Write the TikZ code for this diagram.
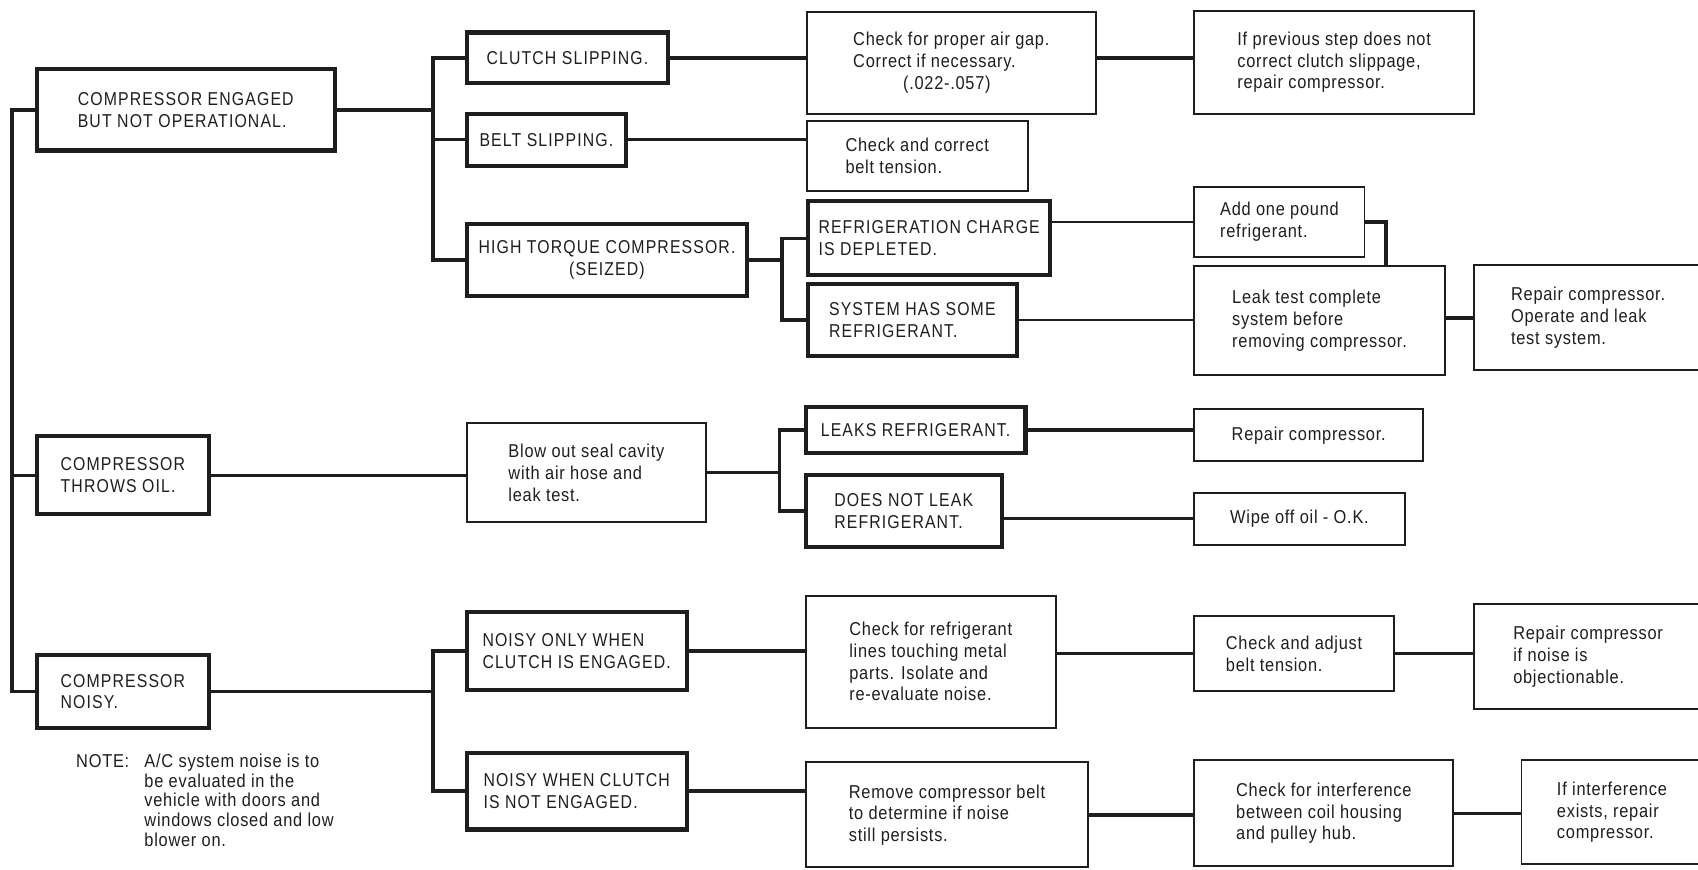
\documentclass[tikz,border=0pt]{standalone}
\usepackage{fontspec}
\setmainfont{Liberation Sans}
\newfontfamily\capsf[FakeStretch=0.85,LetterSpace=6]{Liberation Sans}
\newfontfamily\lowf[FakeStretch=0.88,LetterSpace=4]{Liberation Sans}
\definecolor{ink}{HTML}{1E1E1E}
\tikzset{
  ubox/.style={draw=ink, text=ink, line width=1.9pt, inner sep=1pt, align=left,
    font=\capsf\fontsize{8.6}{10}\selectfont},
  lbox/.style={draw=ink, text=ink, line width=0.9pt, inner sep=1pt, align=left,
    font=\lowf\fontsize{8.6}{10}\selectfont},
  conn/.style={draw=ink, line width=1.6pt},
  thinconn/.style={draw=ink, line width=1.2pt},
  notetext/.style={text=ink, inner sep=0pt, align=left, font=\lowf\fontsize{8.6}{9.2}\selectfont},
}
\begin{document}
\begin{tikzpicture}[x=0.5pt, y=-0.5pt]
\useasboundingbox (0,0) rectangle (1568,803);
\clip (0,0) rectangle (1568,803);
\fill[white] (0,0) rectangle (1568,803);

% bus coordinates
\coordinate (busL) at (11,0);
\coordinate (busA) at (400,0);
\coordinate (busH) at (722,0);
\coordinate (busT) at (720,0);
\coordinate (busN) at (400,0);
\coordinate (addturn) at (1280,0);

% ---------- row 1: compressor engaged ----------
\node[ubox, minimum width=137.5pt, minimum height=37.5pt] (A) at (171.5,101.5)
  {COMPRESSOR ENGAGED\\BUT NOT OPERATIONAL.};
\node[ubox, minimum width=93pt, minimum height=23.5pt] (clutch) at (524,53.5)
  {CLUTCH SLIPPING.};
\node[ubox, minimum width=73.5pt, minimum height=24pt] (belt) at (504.5,129)
  {BELT SLIPPING.};
\node[ubox, align=center, minimum width=129.5pt, minimum height=33pt] (high) at (560.5,240)
  {HIGH TORQUE COMPRESSOR.\\(SEIZED)};
\node[lbox, minimum width=133.5pt, minimum height=47pt] (airgap) at (878.5,58)
  {Check for proper air gap.\\Correct if necessary.\\\hspace*{23pt}(.022-.057)};
\node[lbox, minimum width=129pt, minimum height=47.5pt] (ifprev) at (1232,57.5)
  {If previous step does not\\correct clutch slippage,\\repair compressor.};
\node[lbox, minimum width=102pt, minimum height=32pt] (chkbelt) at (847,144)
  {Check and correct\\belt tension.};
\node[ubox, minimum width=112pt, minimum height=34pt] (refrig) at (858,220)
  {REFRIGERATION CHARGE\\IS DEPLETED.};
\node[ubox, minimum width=96.5pt, minimum height=33.5pt] (system) at (842.5,295.5)
  {SYSTEM HAS SOME\\REFRIGERANT.};
\node[lbox, minimum width=78.5pt, minimum height=32pt] (addone) at (1181.5,205)
  {Add one pound\\refrigerant.};
\node[lbox, minimum width=115.5pt, minimum height=50pt] (leaktest) at (1218.5,296)
  {Leak test complete\\system before\\removing compressor.};
\node[lbox, minimum width=105.5pt, minimum height=48.5pt] (repairA) at (1466.5,293.5)
  {Repair compressor.\\Operate and leak\\test system.};

% ---------- row 2: throws oil ----------
\node[ubox, minimum width=79.5pt, minimum height=36pt] (throws) at (113.5,439)
  {COMPRESSOR\\THROWS OIL.};
\node[lbox, minimum width=110.5pt, minimum height=45.5pt] (blow) at (541.5,436.5)
  {Blow out seal cavity\\with air hose and\\leak test.};
\node[ubox, minimum width=101.5pt, minimum height=21pt] (leaks) at (845.5,397)
  {LEAKS REFRIGERANT.};
\node[ubox, minimum width=90.5pt, minimum height=33pt] (doesnot) at (834.5,472)
  {DOES NOT LEAK\\REFRIGERANT.};
\node[lbox, minimum width=105.5pt, minimum height=24pt] (repairB) at (1208.5,402)
  {Repair compressor.};
\node[lbox, minimum width=97pt, minimum height=24pt] (wipe) at (1200,479)
  {Wipe off oil - O.K.};

% ---------- row 3: noisy ----------
\node[ubox, minimum width=79.5pt, minimum height=33.5pt] (noisy) at (113.5,638.5)
  {COMPRESSOR\\NOISY.};
\node[ubox, minimum width=101.5pt, minimum height=36pt] (nonly) at (532.5,601)
  {NOISY ONLY WHEN\\CLUTCH IS ENGAGED.};
\node[ubox, minimum width=101.5pt, minimum height=35.5pt] (nwhen) at (532.5,730.5)
  {NOISY WHEN CLUTCH\\IS NOT ENGAGED.};
\node[lbox, minimum width=115.5pt, minimum height=61pt] (chkref) at (859.5,611)
  {Check for refrigerant\\lines touching metal\\parts. Isolate and\\re-evaluate noise.};
\node[lbox, minimum width=92pt, minimum height=34.5pt] (chkadj) at (1195,603.5)
  {Check and adjust\\belt tension.};
\node[lbox, minimum width=105.5pt, minimum height=48.5pt] (repairC) at (1466.5,606.5)
  {Repair compressor\\if noise is\\objectionable.};
\node[lbox, minimum width=130.5pt, minimum height=48.5pt] (remove) at (874.5,752.5)
  {Remove compressor belt\\to determine if noise\\still persists.};
\node[lbox, minimum width=119.5pt, minimum height=49pt] (chkint) at (1222.5,751)
  {Check for interference\\between coil housing\\and pulley hub.};
\node[lbox, minimum width=83.5pt, minimum height=48pt] (ifint) at (1488.5,750)
  {If interference\\exists, repair\\compressor.};

\node[notetext, anchor=base west] (note) at (70,782)
  {\makebox[31.5pt][l]{NOTE:}A/C system noise is to\\
   \hspace*{31.5pt}be evaluated in the\\
   \hspace*{31.5pt}vehicle with doors and\\
   \hspace*{31.5pt}windows closed and low\\
   \hspace*{31.5pt}blower on.};

% ---------- connectors ----------
% left main bus
\draw[conn] (A.west) -| (noisy.west -| busL) -- (noisy.west);
\draw[conn] (throws.west -| busL) -- (throws.west);
% engaged bus
\draw[conn] (A.east) -- (A.east -| busA);
\draw[conn] (clutch.west) -| (high.west -| busA) -- (high.west);
\draw[conn] (belt.west -| busA) -- (belt.west);
\draw[conn] (clutch.east) -- (airgap.west |- clutch.east);
\draw[conn] (airgap.east |- clutch.east) -- (ifprev.west |- clutch.east);
\draw[conn] (belt.east) -- (chkbelt.west |- belt.east);
% high torque bus
\draw[conn] (high.east) -- (high.east -| busH);
\draw[conn] (refrig.west) -| (system.west -| busH) -- (system.west);
\draw[thinconn] (refrig.east |- addone.west) -- (addone.west);
\draw[conn] (addone.east) -| (leaktest.north -| addturn);
\draw[thinconn] (system.east) -- (leaktest.west |- system.east);
\draw[conn] (leaktest.east |- repairA.west) -- (repairA.west);
% throws oil
\draw[conn] (throws.east) -- (blow.west |- throws.east);
\draw[conn] (blow.east) -- (blow.east -| busT);
\draw[conn] (leaks.west) -| (doesnot.west -| busT) -- (doesnot.west);
\draw[conn] (leaks.east) -- (repairB.west |- leaks.east);
\draw[conn] (doesnot.east |- wipe.west) -- (wipe.west);
% noisy
\draw[conn] (noisy.east) -- (noisy.east -| busN);
\draw[conn] (nonly.west) -| (nwhen.west -| busN) -- (nwhen.west);
\draw[conn] (nonly.east) -- (chkref.west |- nonly.east);
\draw[conn] (chkref.east |- chkadj.west) -- (chkadj.west);
\draw[conn] (chkadj.east) -- (repairC.west |- chkadj.east);
\draw[conn] (nwhen.east) -- (remove.west |- nwhen.east);
\draw[conn] (remove.east) -- (chkint.west |- remove.east);
\draw[conn] (chkint.east) -- (ifint.west |- chkint.east);
\end{tikzpicture}
\end{document}
